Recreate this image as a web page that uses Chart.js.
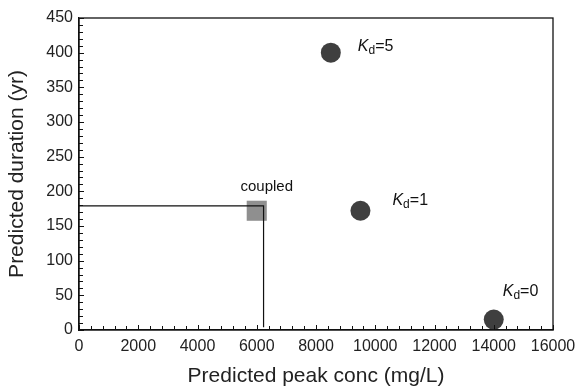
<!DOCTYPE html>
<html>
<head>
<meta charset="utf-8">
<script src="https://cdn.jsdelivr.net/npm/chart.js@4"></script>
<style>
  body { margin: 0; background: #fff; }
  #wrap { width: 576px; height: 389px; }
</style>
</head>
<body>
<div id="wrap"><canvas id="peakChart" width="576" height="389"></canvas></div>
<script>
// values
const kdNames = ["5", "1", "0"];
const kdConc = [8500, 9500, 14000];
const kdDuration = [400, 172, 15];

const coupledConc = [6000];
const coupledDuration = [172];

// guide lines from the axes to the coupled result
const guideConc = [0, 6230, 6230];
const guideDuration = [179, 179, 4];

const xTickValues = [0, 2000, 4000, 6000, 8000, 10000, 12000, 14000, 16000];
const yTickValues = [0, 50, 100, 150, 200, 250, 300, 350, 400, 450];

// label placement, pixels from the marker centre
const kdLabelOffsets = [[27, -2], [32, -6], [9, -24]];

const FONT = "'Liberation Sans', Arial, sans-serif";

function toPoints(xs, ys) {
  return xs.map((x, i) => ({ x: x, y: ys[i] }));
}

// frame on top/right and inward minor ticks
const framePlugin = {
  id: "frame",
  afterDraw(chart) {
    const ctx = chart.ctx;
    const a = chart.chartArea;
    const xs = chart.scales.x;
    const ys = chart.scales.y;
    ctx.save();
    ctx.strokeStyle = "#111";
    ctx.lineWidth = 1.3;
    ctx.strokeRect(a.left, a.top, a.right - a.left, a.bottom - a.top);

    ctx.lineWidth = 1;
    ctx.beginPath();
    for (let v = 0; v <= 16000; v += 400) {
      const px = Math.round(xs.getPixelForValue(v)) + 0.5;
      const len = v % 2000 === 0 ? 5 : 4;
      ctx.moveTo(px, a.bottom);
      ctx.lineTo(px, a.bottom - len);
    }
    for (let v = 0; v <= 450; v += 10) {
      const py = Math.round(ys.getPixelForValue(v)) + 0.5;
      const len = v % 50 === 0 ? 5 : 4;
      ctx.moveTo(a.left, py);
      ctx.lineTo(a.left + len, py);
    }
    ctx.stroke();
    ctx.restore();
  },
};

// K_d labels and the "coupled" caption
const labelPlugin = {
  id: "labels",
  afterDatasetsDraw(chart) {
    const ctx = chart.ctx;
    const xs = chart.scales.x;
    const ys = chart.scales.y;
    ctx.save();
    ctx.fillStyle = "#111";
    ctx.textBaseline = "alphabetic";
    kdNames.forEach((name, i) => {
      let x = xs.getPixelForValue(kdConc[i]) + kdLabelOffsets[i][0];
      const y = ys.getPixelForValue(kdDuration[i]) + kdLabelOffsets[i][1];
      ctx.textAlign = "left";
      ctx.font = "italic 16px " + FONT;
      ctx.fillText("K", x, y);
      x += ctx.measureText("K").width;
      ctx.font = "12px " + FONT;
      ctx.fillText("d", x, y + 3);
      x += ctx.measureText("d").width;
      ctx.font = "16px " + FONT;
      ctx.fillText("=" + name, x, y);
    });
    ctx.font = "15px " + FONT;
    ctx.textAlign = "center";
    ctx.fillText("coupled",
      xs.getPixelForValue(coupledConc[0]) + 10,
      ys.getPixelForValue(coupledDuration[0]) - 20);
    ctx.restore();
  },
};

const ctx = document.getElementById("peakChart").getContext("2d");

new Chart(ctx, {
  type: "scatter",
  data: {
    datasets: [
      {
        label: "coupled",
        data: toPoints(coupledConc, coupledDuration),
        pointStyle: "rect",
        pointRadius: 14.2,
        backgroundColor: "#8f8f8f",
        borderWidth: 0,
        order: 3,
      },
      {
        label: "guide",
        type: "line",
        data: toPoints(guideConc, guideDuration),
        borderColor: "#111",
        borderWidth: 1.2,
        pointRadius: 0,
        fill: false,
        tension: 0,
        order: 1,
      },
      {
        label: "Kd",
        data: toPoints(kdConc, kdDuration),
        pointStyle: "circle",
        pointRadius: 10,
        backgroundColor: "#3f3f3f",
        borderWidth: 0,
        order: 2,
      },
    ],
  },
  options: {
    responsive: false,
    animation: false,
    devicePixelRatio: 1,
    layout: { padding: { left: 0, right: 23, top: 18, bottom: 0 } },
    plugins: {
      legend: { display: false },
      tooltip: { enabled: false },
    },
    scales: {
      x: {
        type: "linear",
        min: 0,
        max: 16000,
        afterBuildTicks: (s) => { s.ticks = xTickValues.map((v) => ({ value: v })); },
        afterFit: (s) => {
          s.height = 59;
          s.paddingLeft = 0;
          s.paddingRight = 0;
        },
        grid: { display: false, drawTicks: false },
        border: { display: true, color: "#111", width: 1.3 },
        ticks: {
          color: "#222",
          padding: 7,
          maxRotation: 0,
          callback: (v) => String(v),
          font: { family: FONT, size: 16 },
        },
        title: {
          display: true,
          text: "Predicted peak conc (mg/L)",
          color: "#222",
          padding: { top: 0, bottom: 0 },
          font: { family: FONT, size: 21 },
        },
      },
      y: {
        type: "linear",
        min: 0,
        max: 450,
        afterBuildTicks: (s) => { s.ticks = yTickValues.map((v) => ({ value: v })); },
        afterFit: (s) => {
          s.width = 79;
          s.paddingTop = 0;
          s.paddingBottom = 0;
        },
        grid: { display: false, drawTicks: false },
        border: { display: true, color: "#111", width: 1.3 },
        ticks: {
          color: "#222",
          padding: 6,
          callback: (v) => String(v),
          font: { family: FONT, size: 16 },
        },
        title: {
          display: true,
          text: "Predicted duration (yr)",
          color: "#222",
          padding: { top: 5, bottom: 0 },
          font: { family: FONT, size: 21 },
        },
      },
    },
  },
  plugins: [framePlugin, labelPlugin],
});
</script>
</body>
</html>
